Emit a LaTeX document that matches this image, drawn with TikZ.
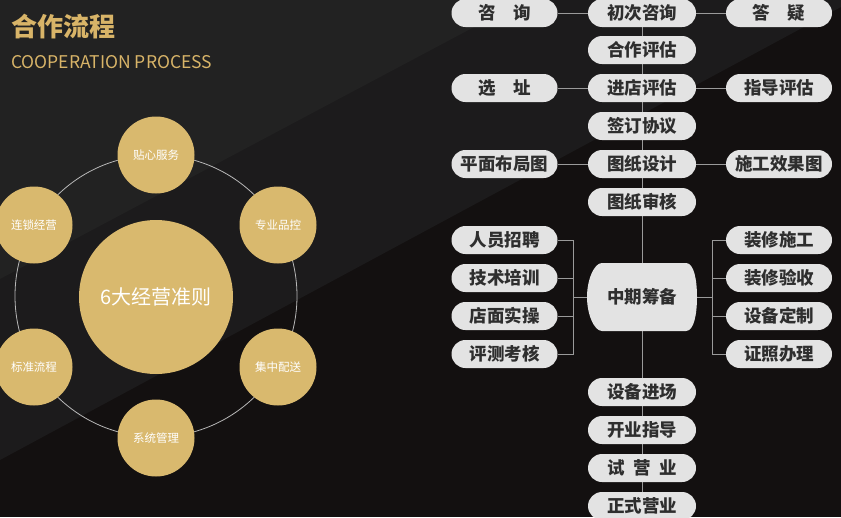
\documentclass[tikz,border=0pt]{standalone}
\usepackage{fontspec}
\setmainfont{Noto Sans CJK SC}
\definecolor{bgA}{HTML}{222222}
\definecolor{bgB}{HTML}{1C1B1C}
\definecolor{bgC}{HTML}{131010}
\definecolor{gold}{HTML}{D9B96E}
\definecolor{titlegold}{HTML}{D8B468}
\definecolor{boxg}{HTML}{E3E3E3}
\definecolor{txt}{HTML}{2E2E2E}
\definecolor{lineg}{HTML}{9A9A9A}
\definecolor{ringc}{HTML}{B8B8B8}
\pgfdeclarelayer{bglayer}
\pgfdeclarelayer{lines}
\pgfsetlayers{bglayer,lines,main}
\tikzset{
  pill/.style={fill=boxg, rounded corners=14pt, minimum width=106pt, minimum height=28pt,
    inner sep=0pt, text=txt, font=\fontsize{17.5}{17.5}\selectfont\bfseries},
  cpill/.style={pill, minimum width=108pt},
  conn/.style={draw=lineg, line width=0.95pt},
  smallc/.style={circle, fill=gold, minimum size=77pt, inner sep=0pt, text=white,
    font=\fontsize{11.5}{12}\selectfont},
  bigc/.style={circle, fill=gold, minimum size=154pt, inner sep=0pt, text=white,
    font=\fontsize{20}{20}\selectfont},
}
\begin{document}
\begin{tikzpicture}[x=1pt,y=-1pt]
\useasboundingbox (0,0) rectangle (841,517);
\begin{pgfonlayer}{bglayer}
  \fill[bgC] (0,0) rectangle (841,517);
  \fill[bgB] (0,0) -- (841,0) -- (841,7) -- (0,460) -- cycle;
  \fill[bgA] (0,0) -- (525,0) -- (0,279) -- cycle;
\end{pgfonlayer}

% title
\node[anchor=west, text=titlegold, font=\fontsize{26}{26}\selectfont\bfseries, inner sep=0pt] (title) at (11,27) {合作流程};
\node[anchor=west, text=titlegold, font=\fontsize{17.5}{18}\selectfont, inner sep=0pt] (subtitle) at (11,62) {COOPERATION PROCESS};

% circles
\begin{pgfonlayer}{lines}
  \draw[ringc, line width=0.8pt] (156,296) circle[radius=141pt];
\end{pgfonlayer}
\node[bigc] (core) at (156,297) {6大经营准则};
\node[smallc] (s1) at (156,155) {贴心服务};
\node[smallc] (s2) at (278,225) {专业品控};
\node[smallc] (s3) at (278,367) {集中配送};
\node[smallc] (s4) at (156,438) {系统管理};
\node[smallc] (s5) at (34,367) {标准流程};
\node[smallc] (s6) at (34,225) {连锁经营};

% center column
\node[cpill] (c1) at (642,13) {初次咨询};
\node[cpill] (c2) at (642,50) {合作评估};
\node[cpill] (c3) at (642,88) {进店评估};
\node[cpill] (c4) at (642,126) {签订协议};
\node[cpill] (c5) at (642,164) {图纸设计};
\node[cpill] (c6) at (642,202) {图纸审核};
\fill[boxg] (602,263) -- (686,263) .. controls (694,263) and (697,280) .. (697,297)
  .. controls (697,314) and (694,331) .. (686,331) -- (602,331)
  .. controls (594,331) and (587,314) .. (587,297)
  .. controls (587,280) and (594,263) .. (602,263) -- cycle;
\node[text=txt, font=\fontsize{17.5}{17.5}\selectfont\bfseries, minimum width=110pt, minimum height=69pt, inner sep=0pt] (mid) at (642,297) {中期筹备};
\node[cpill] (c7) at (642,392) {设备进场};
\node[cpill] (c8) at (642,430) {开业指导};
\node[cpill] (c9) at (642,468) {试\hspace{0.5em}营\hspace{0.5em}业};
\node[cpill] (c10) at (642,506) {正式营业};

% left column
\node[pill] (l1) at (504.5,13) {咨　询};
\node[pill] (l2) at (504.5,88) {选　址};
\node[pill] (l3) at (504.5,164) {平面布局图};
\node[pill] (l4) at (504.5,240) {人员招聘};
\node[pill] (l5) at (504.5,278) {技术培训};
\node[pill] (l6) at (504.5,316) {店面实操};
\node[pill] (l7) at (504.5,354) {评测考核};

% right column
\node[pill] (r1) at (779,13) {答　疑};
\node[pill] (r2) at (779,88) {指导评估};
\node[pill] (r3) at (779,164) {施工效果图};
\node[pill] (r4) at (779,240) {装修施工};
\node[pill] (r5) at (779,278) {装修验收};
\node[pill] (r6) at (779,316) {设备定制};
\node[pill] (r7) at (779,354) {证照办理};

\coordinate (lb) at (573,297);
\coordinate (rb) at (712,297);

\begin{pgfonlayer}{lines}
  \draw[conn] (c1.center) -- (c10.center);
  \draw[conn] (l1) -- (c1);
  \draw[conn] (c1) -- (r1);
  \draw[conn] (l2) -- (c3);
  \draw[conn] (c3) -- (r2);
  \draw[conn] (l3) -- (c5);
  \draw[conn] (c5) -- (r3);
  \draw[conn] (mid.west) -- (lb);
  \draw[conn] (mid.east) -- (rb);
  \foreach \n in {l4,l5,l6,l7} \draw[conn] (\n.east) -| (lb);
  \foreach \n in {r4,r5,r6,r7} \draw[conn] (\n.west) -| (rb);
\end{pgfonlayer}
\end{tikzpicture}
\end{document}
